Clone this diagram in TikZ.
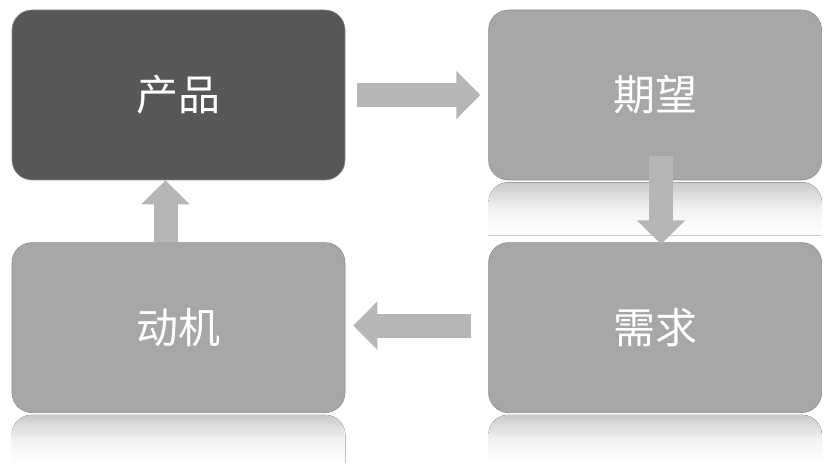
\documentclass[tikz,border=0pt]{standalone}
\usepackage{fontspec}
\setmainfont{Noto Sans CJK SC}
\usepackage{tikz}
\usetikzlibrary{positioning}
\usetikzlibrary{calc}
\usetikzlibrary{arrows.meta}

\definecolor{darkbox}{HTML}{575757}
\definecolor{lightbox}{HTML}{A7A7A7}
\definecolor{flow}{HTML}{B6B6B6}

\tikzset{
    box/.style={draw=black!45, line width=0.6pt, rounded corners=20pt, minimum width=333pt, minimum height=170pt, inner sep=0pt, text=white, font=\fontsize{42}{48}\selectfont},
    flowarrow/.style={draw=flow, line width=24pt, -{Triangle[width=47pt,length=24pt]}},
    mirror/.style={top color=lightbox!60!white, bottom color=white, middle color=lightbox!15!white}
}

\begin{document}
\begin{tikzpicture}[x=1pt, y=-1pt]
    \useasboundingbox (0,0) rectangle (840,473);

        \node [box, fill=darkbox] (cp) at (178.5,95) {产品};
        \node [box, fill=lightbox, right=143pt of cp] (qw) {期望};
        \node [box, fill=lightbox, below=62pt of cp] (dj) {动机};
        \node [box, fill=lightbox, right=143pt of dj] (xq) {需求};

        % reflections
        \fill [mirror] ([yshift=-2pt]qw.south west) [rounded corners=20pt] -- ([yshift=-2pt]qw.south east) [sharp corners] -- ([yshift=-55pt]qw.south east) -- ([yshift=-55pt]qw.south west) [rounded corners=20pt] -- cycle;
        \fill [mirror] ([yshift=-2pt]xq.south west) [rounded corners=20pt] -- ([yshift=-2pt]xq.south east) [sharp corners] -- ([yshift=-50pt]xq.south east) -- ([yshift=-50pt]xq.south west) [rounded corners=20pt] -- cycle;
        \fill [mirror] ([yshift=-2pt]dj.south west) [rounded corners=20pt] -- ([yshift=-2pt]dj.south east) [sharp corners] -- ([yshift=-50pt]dj.south east) -- ([yshift=-50pt]dj.south west) [rounded corners=20pt] -- cycle;

        \coordinate (d) at ([xshift=6pt,yshift=24pt]qw.south);
        \coordinate (u) at ([xshift=-13pt]dj.north);

        \draw [flowarrow] ([xshift=12pt]cp.east) -- ([xshift=-8pt]qw.west);
        \draw [flowarrow] (d) -- ([yshift=-2pt]d |- xq.north);
        \draw [flowarrow] ([xshift=-17pt,yshift=2pt]xq.west) -- ([xshift=8pt,yshift=2pt]dj.east);
        \draw [flowarrow] (u) -- (u |- cp.south);

\end{tikzpicture}
\end{document}
